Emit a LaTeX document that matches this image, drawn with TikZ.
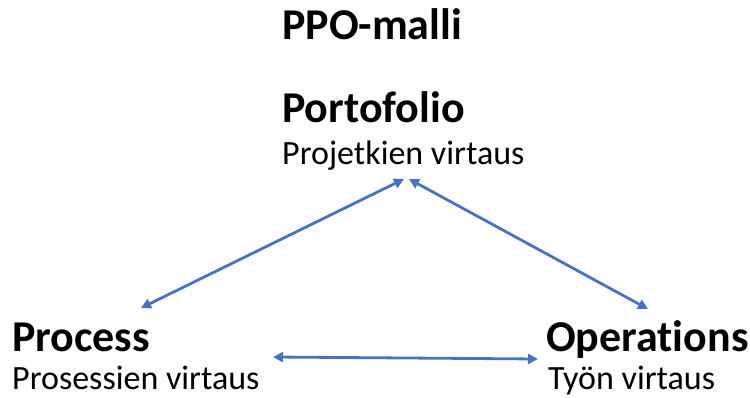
\documentclass[tikz,border=0pt]{standalone}
\usepackage{fontspec}
\setmainfont{Carlito}[Ligatures=NoCommon]
\usetikzlibrary{arrows.meta}
\definecolor{arrblue}{HTML}{4472C4}
\tikzset{
  head/.style={anchor=base west, inner sep=0pt, font=\fontsize{44}{48}\selectfont\bfseries},
  sub/.style={anchor=base west, inner sep=0pt, font=\fontsize{34}{38}\selectfont},
  link/.style={draw=arrblue, line width=2.8pt, {Triangle[length=10pt,width=10pt]}-{Triangle[length=10pt,width=10pt]}},
}
\begin{document}
\begin{tikzpicture}[x=1pt,y=-1pt]
\useasboundingbox (0,0) rectangle (750,398);
\node[head] (title) at (282,40) {PPO-malli};
\node[head] (port) at (282,123) {Portofolio};
\node[sub] (portsub) at (282,165) {Projetkien virtaus};
\node[head] (proc) at (12,351) {Process};
\node[sub] (procsub) at (12,389) {Prosessien virtaus};
\node[head] (oper) at (546,351) {Operations};
\node[sub] (opersub) at (548,389) {Työn virtaus};
\coordinate (topL) at (404,179);
\coordinate (topR) at (409,179);
\coordinate (procT) at (141,308);
\coordinate (operT) at (648,309);
\coordinate (midL) at (273,357);
\coordinate (midR) at (538,359);
\draw[link] (topL) -- (procT);
\draw[link] (topR) -- (operT);
\draw[link] (midL) -- (midR);
\end{tikzpicture}
\end{document}
